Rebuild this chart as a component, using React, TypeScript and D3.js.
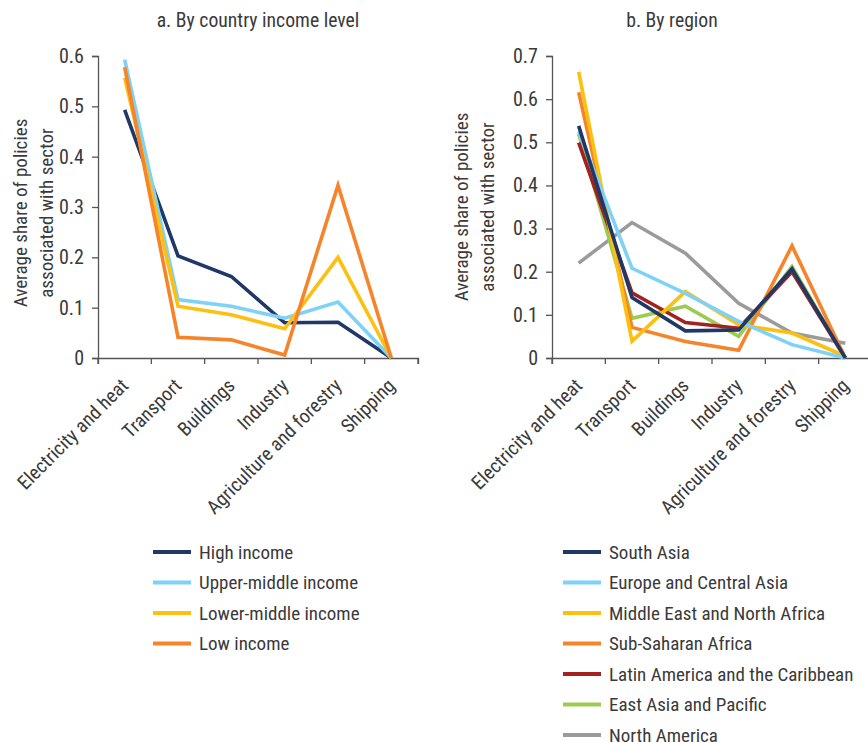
import { useEffect, useRef } from 'react'
import * as d3 from 'd3'

const categories = ['Electricity and heat', 'Transport', 'Buildings', 'Industry', 'Agriculture and forestry', 'Shipping']

// a. By country income level
const highIncome = [0.493, 0.203, 0.162, 0.07, 0.071, 0]
const upperMiddleIncome = [0.593, 0.116, 0.103, 0.079, 0.111, 0]
const lowerMiddleIncome = [0.557, 0.103, 0.086, 0.058, 0.2, 0]
const lowIncome = [0.578, 0.041, 0.036, 0.006, 0.343, 0]

// b. By region
const southAsia = [0.538, 0.14, 0.063, 0.065, 0.207, 0]
const europeCentralAsia = [0.525, 0.208, 0.15, 0.085, 0.031, 0]
const middleEastNorthAfrica = [0.663, 0.039, 0.154, 0.077, 0.058, 0.004]
const subSaharanAfrica = [0.616, 0.071, 0.038, 0.018, 0.26, 0]
const latinAmerica = [0.499, 0.151, 0.082, 0.069, 0.2, 0]
const eastAsiaPacific = [0.52, 0.092, 0.12, 0.05, 0.212, 0]
const northAmerica = [0.22, 0.314, 0.243, 0.127, 0.058, 0.034]

const incomeTicks = [0, 0.1, 0.2, 0.3, 0.4, 0.5, 0.6]
const regionTicks = [0, 0.1, 0.2, 0.3, 0.4, 0.5, 0.6, 0.7]

const NAVY = '#1f3868'
const LIGHT_BLUE = '#7fd2f5'
const YELLOW = '#fdc010'
const ORANGE = '#f5842a'
const RED = '#a3211f'
const GREEN = '#9dcb52'
const GRAY = '#9b9b9b'

interface Series {
  name: string
  values: number[]
  color: string
}

const incomeSeries: Series[] = [
  { name: 'High income', values: highIncome, color: NAVY },
  { name: 'Upper-middle income', values: upperMiddleIncome, color: LIGHT_BLUE },
  { name: 'Lower-middle income', values: lowerMiddleIncome, color: YELLOW },
  { name: 'Low income', values: lowIncome, color: ORANGE },
]

const regionSeries: Series[] = [
  { name: 'South Asia', values: southAsia, color: NAVY },
  { name: 'Europe and Central Asia', values: europeCentralAsia, color: LIGHT_BLUE },
  { name: 'Middle East and North Africa', values: middleEastNorthAfrica, color: YELLOW },
  { name: 'Sub-Saharan Africa', values: subSaharanAfrica, color: ORANGE },
  { name: 'Latin America and the Caribbean', values: latinAmerica, color: RED },
  { name: 'East Asia and Pacific', values: eastAsiaPacific, color: GREEN },
  { name: 'North America', values: northAmerica, color: GRAY },
]

// order lines are painted in (bottom first)
const regionDrawOrder = ['North America', 'East Asia and Pacific', 'Latin America and the Caribbean', 'Sub-Saharan Africa', 'Middle East and North Africa', 'Europe and Central Asia', 'South Asia']

const FONT = '"Liberation Sans Narrow", "Roboto Condensed", "DejaVu Sans Condensed", Arial, sans-serif'
const TEXT = '#3a3a3a'
const AXIS = '#555'

interface PanelOpts {
  title: string
  x0: number
  series: Series[]
  drawOrder: string[]
  ticks: number[]
  yMax: number
  titleX: number
  labelX: number
  labelY: number
}

function drawPanel(svg: d3.Selection<SVGSVGElement, unknown, null, undefined>, o: PanelOpts) {
  const top = 56
  const bottom = 358
  const width = 320

  const g = svg.append('g').attr('transform', `translate(${o.x0},0)`)

  const x = d3.scaleBand<string>().domain(categories).range([0, width])
  const y = d3.scaleLinear().domain([0, o.yMax]).range([bottom, top])

  svg.append('text')
    .attr('x', o.titleX)
    .attr('y', 27)
    .attr('text-anchor', 'middle')
    .attr('font-size', 19.7)
    .attr('fill', TEXT)
    .text(o.title)

  const yAxis = g.append('g')
    .call(d3.axisLeft(y).tickValues(o.ticks).tickFormat(d => (d === 0 ? '0' : d3.format('.1f')(d as number))).tickSize(6).tickPadding(8))
  yAxis.selectAll('text').attr('font-size', 20).attr('font-family', FONT).attr('fill', TEXT)

  const xAxis = g.append('g')
    .attr('transform', `translate(0,${bottom})`)
    .call(d3.axisBottom(x).tickSize(6).tickFormat(() => ''))
  // ticks sit on band edges, as in the original
  xAxis.selectAll('.tick').remove()
  const edges = d3.range(categories.length + 1).map(i => i * x.bandwidth())
  xAxis.selectAll('line.edge')
    .data(edges)
    .enter()
    .append('line')
    .attr('class', 'edge')
    .attr('x1', d => d)
    .attr('x2', d => d)
    .attr('y1', 0)
    .attr('y2', 6)
    .attr('stroke', AXIS)

  g.selectAll('.domain, .tick line').attr('stroke', AXIS).attr('stroke-width', 1.3)
  xAxis.selectAll('line.edge').attr('stroke-width', 1.3)

  g.selectAll('text.cat')
    .data(categories)
    .enter()
    .append('text')
    .attr('class', 'cat')
    .attr('transform', d => `translate(${(x(d) ?? 0) + x.bandwidth() / 2},${bottom + 24}) rotate(-45)`)
    .attr('text-anchor', 'end')
    .attr('dy', '0.35em')
    .attr('font-size', 19.5)
    .attr('fill', TEXT)
    .text(d => d)

  const line = d3.line<number>()
    .x((_, i) => (x(categories[i]) ?? 0) + x.bandwidth() / 2)
    .y(d => y(d))

  const ordered = o.drawOrder.map(n => o.series.find(s => s.name === n)!)
  g.selectAll('path.series')
    .data(ordered)
    .enter()
    .append('path')
    .attr('class', 'series')
    .attr('fill', 'none')
    .attr('stroke', d => d.color)
    .attr('stroke-width', 3.6)
    .attr('stroke-linejoin', 'miter')
    .attr('d', d => line(d.values))

  // y axis title
  const lt = svg.append('text')
    .attr('transform', `translate(${o.labelX},${o.labelY}) rotate(-90)`)
    .attr('text-anchor', 'middle')
    .attr('font-size', 19)
    .attr('fill', TEXT)
  lt.append('tspan').attr('x', 0).attr('y', 0).text('Average share of policies')
  lt.append('tspan').attr('x', 0).attr('y', 25.5).text('associated with sector')
}

function drawLegend(svg: d3.Selection<SVGSVGElement, unknown, null, undefined>, series: Series[], lx: number) {
  const rowY = d3.scalePoint<string>().domain(series.map(s => s.name)).range([552, 552 + 30.5 * (series.length - 1)])
  const leg = svg.append('g')
  const rows = leg.selectAll('g.row')
    .data(series)
    .enter()
    .append('g')
    .attr('transform', d => `translate(${lx},${rowY(d.name)})`)
  rows.append('line')
    .attr('x1', 0)
    .attr('x2', 38)
    .attr('stroke', d => d.color)
    .attr('stroke-width', 4)
  rows.append('text')
    .attr('x', 46)
    .attr('dy', '0.35em')
    .attr('font-size', 19)
    .attr('fill', TEXT)
    .text(d => d.name)
}

export default function App() {
  const svgRef = useRef<SVGSVGElement>(null)

  useEffect(() => {
    if (!svgRef.current) return
    const svg = d3.select(svgRef.current)
    svg.selectAll('*').remove()

    drawPanel(svg, {
      title: 'a. By country income level',
      x0: 98,
      series: incomeSeries,
      drawOrder: incomeSeries.map(s => s.name),
      ticks: incomeTicks,
      yMax: 0.6,
      titleX: 258,
      labelX: 27,
      labelY: 213,
    })
    drawPanel(svg, {
      title: 'b. By region',
      x0: 552,
      series: regionSeries,
      drawOrder: regionDrawOrder,
      ticks: regionTicks,
      yMax: 0.7,
      titleX: 672,
      labelX: 468,
      labelY: 207,
    })

    drawLegend(svg, incomeSeries, 153)
    drawLegend(svg, regionSeries, 563)
  }, [])

  return (
    <svg
      ref={svgRef}
      width={868}
      height={742}
      style={{ position: 'absolute', left: 0, top: 0, background: '#fff', fontFamily: FONT }}
    />
  )
}
